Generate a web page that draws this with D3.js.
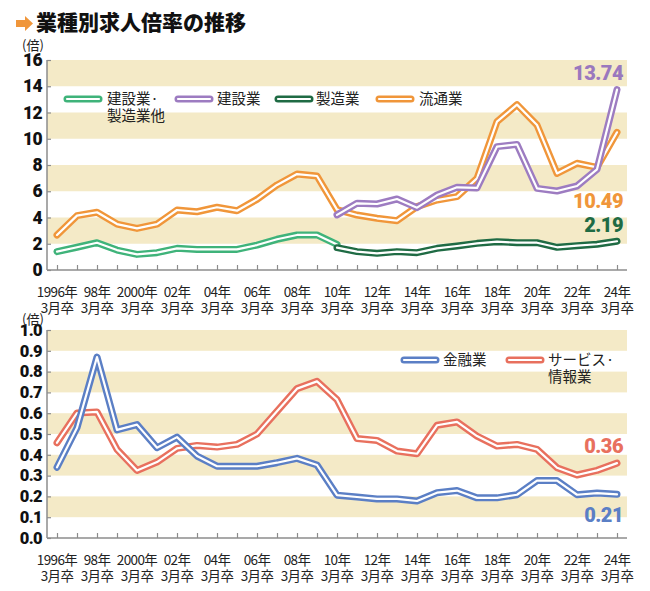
<!DOCTYPE html>
<html><head><meta charset="utf-8">
<script src="https://cdn.jsdelivr.net/npm/d3@7"></script>
<style>body{margin:0;background:#fff} svg{display:block}</style>
</head><body><svg id="c" width="650" height="591"></svg>
<script>
// ---------- data ----------
const years = d3.range(1996, 2025);
const labelYears = d3.range(1996, 2025, 2);
const xLabelTop = ["1996年","98年","2000年","02年","04年","06年","08年","10年","12年","14年","16年","18年","20年","22年","24年"];
const xLabelBottom = "3月卒";
const topTicks = [0,2,4,6,8,10,12,14,16];
const bottomTicks = [0,0.1,0.2,0.3,0.4,0.5,0.6,0.7,0.8,0.9,1.0];

// top chart
const ryutsuStart = 1996; // 流通業
const ryutsu = [2.67,4.14,4.4,3.5,3.17,3.5,4.57,4.44,4.78,4.52,5.38,6.48,7.31,7.16,4.6,4.19,3.94,3.76,4.83,5.33,5.59,6.98,11.3,12.6,11.05,7.36,8.13,7.82,10.49];
const kenseiStart = 1996; // 建設業・製造業他
const kensei = [1.4,1.73,2.08,1.52,1.19,1.32,1.65,1.57,1.57,1.57,1.9,2.34,2.67,2.67,1.95];
const kensetsuStart = 2010; // 建設業
const kensetsu = [4.2,5.08,5.03,5.41,4.75,5.71,6.3,6.25,9.4,9.57,6.22,6.02,6.4,7.67,13.74];
const seizoStart = 2010; // 製造業
const seizo = [1.7,1.4,1.27,1.4,1.32,1.65,1.83,2.03,2.16,2.08,2.08,1.73,1.85,1.96,2.19];

// bottom chart
const kinyuStart = 1996; // 金融業
const kinyu = [0.34,0.53,0.87,0.52,0.545,0.434,0.485,0.394,0.345,0.345,0.345,0.362,0.383,0.351,0.206,0.197,0.188,0.188,0.178,0.218,0.228,0.193,0.193,0.208,0.276,0.276,0.208,0.216,0.21];
const serviceStart = 1996; // サービス・情報業
const service = [0.458,0.601,0.606,0.426,0.325,0.365,0.431,0.445,0.437,0.45,0.5,0.609,0.718,0.753,0.665,0.478,0.469,0.418,0.405,0.542,0.558,0.49,0.442,0.45,0.426,0.338,0.303,0.325,0.36];

const topLegend = [
  {name:["建設業·","製造業他"], color:"#3fb37a"},
  {name:["建設業"], color:"#9d7cc1"},
  {name:["製造業"], color:"#1f6b44"},
  {name:["流通業"], color:"#f0963a"}
];
const bottomLegend = [
  {name:["金融業"], color:"#5b7fc5"},
  {name:["サービス·","情報業"], color:"#e8705e"}
];

// ---------- drawing ----------
const svg = d3.select("#c");
const JP = "'Noto Sans CJK JP','Noto Sans',sans-serif";
const NUM = "Roboto,'Noto Sans',sans-serif";
const BAND = "#f4eac7";
const AX = "#8c8c8c";

// title
svg.append("path").attr("d","M16,20H25V16L33,23.5L25,31V27H16Z").attr("fill","#f0963a");
svg.append("text").attr("x",36).attr("y",30).attr("font-family",JP).attr("font-weight",900)
  .attr("font-size",21).attr("fill","#111").text("業種別求人倍率の推移");

const x = d3.scaleLinear().domain([1996,2024]).range([57,617]);
const xL = 47, xR = 627;

function panel(y, ticks, fmt, unitY, labelSize) {
  const g = svg.append("g");
  // bands
  for (let i = 0; i < ticks.length - 1; i++) {
    if ((ticks.length - 2 - i) % 2 === 0) {
      g.append("rect").attr("x",xL).attr("width",xR-xL)
        .attr("y",y(ticks[i+1])).attr("height",y(ticks[i])-y(ticks[i+1])).attr("fill",BAND);
    }
  }
  // y axis
  const ya = d3.axisLeft(y).tickValues(ticks).tickSize(-4).tickPadding(6).tickFormat(fmt);
  const yg = g.append("g").attr("transform",`translate(${xL},0)`).call(ya);
  yg.select(".domain").attr("stroke",AX).attr("stroke-width",1.5).attr("d",`M0,${y(ticks[ticks.length-1])}V${y(0)}`);
  yg.selectAll(".tick line").attr("stroke",AX).attr("stroke-width",1.2);
  yg.selectAll(".tick text").attr("font-family",NUM).attr("font-weight",900).attr("font-size",labelSize)
    .attr("fill","#111").attr("x",-5).attr("letter-spacing",-0.6);
  // x axis
  const xa = d3.axisBottom(x).tickValues(years).tickSize(-5).tickFormat("");
  const xg = g.append("g").attr("transform",`translate(0,${y(0)})`).call(xa);
  xg.select(".domain").attr("stroke",AX).attr("stroke-width",1.5).attr("d",`M${xL},0H${xR}`);
  xg.selectAll(".tick line").attr("stroke",AX).attr("stroke-width",1.2);
  // x labels
  labelYears.forEach((yr,i) => {
    g.append("text").attr("text-anchor","middle").attr("font-family",JP).attr("font-size",13.5)
      .attr("fill","#222").attr("letter-spacing",-0.6).attr("x",x(yr)).attr("y",y(0)+27).text(xLabelTop[i]);
    g.append("text").attr("text-anchor","middle").attr("font-family",JP).attr("font-size",13.5)
      .attr("fill","#222").attr("letter-spacing",-0.6).attr("x",x(yr)).attr("y",y(0)+43).text(xLabelBottom);
  });
  // unit label
  svg.append("text").attr("x",22).attr("y",unitY).attr("font-family",JP).attr("font-size",13)
    .attr("fill","#222").text("(倍)");
  return g;
}

function series(g, y, data, start, color) {
  const line = d3.line().x((d,i)=>x(start+i)).y(d=>y(d));
  g.append("path").attr("d",line(data)).attr("fill","none").attr("stroke",color)
    .attr("stroke-width",7).attr("stroke-linejoin","round").attr("stroke-linecap","round");
  g.append("path").attr("d",line(data)).attr("fill","none").attr("stroke","#fff")
    .attr("stroke-width",2.2).attr("stroke-linejoin","round").attr("stroke-linecap","round");
}

function legendItem(g, lx, ly, item, textX) {
  g.append("line").attr("x1",lx).attr("x2",lx+32).attr("y1",ly).attr("y2",ly)
    .attr("stroke",item.color).attr("stroke-width",7).attr("stroke-linecap","round");
  g.append("line").attr("x1",lx).attr("x2",lx+32).attr("y1",ly).attr("y2",ly)
    .attr("stroke","#fff").attr("stroke-width",2.2).attr("stroke-linecap","round");
  item.name.forEach((s,i)=>{
    g.append("text").attr("x",textX).attr("y",ly+5+i*17).attr("font-family",JP).attr("font-size",14.5)
      .attr("fill","#222").text(s);
  });
}

function endLabel(txt, xx, yy, color, size) {
  svg.append("text").attr("x",xx).attr("y",yy).attr("text-anchor","end").attr("font-family",NUM)
    .attr("font-weight",900).attr("font-size",size).attr("letter-spacing",-0.5).attr("fill",color).text(txt);
}

// ----- top panel -----
const yT = d3.scaleLinear().domain([0,16]).range([270,60]);
const gT = panel(yT, topTicks, d3.format("d"), 50, 17.5);
series(gT, yT, ryutsu, ryutsuStart, topLegend[3].color);
series(gT, yT, kensei, kenseiStart, topLegend[0].color);
series(gT, yT, seizo, seizoStart, topLegend[2].color);
series(gT, yT, kensetsu, kensetsuStart, topLegend[1].color);
const lgT = svg.append("g");
legendItem(lgT, 67, 99, topLegend[0], 107);
legendItem(lgT, 178, 99, topLegend[1], 217);
legendItem(lgT, 278, 99, topLegend[2], 316);
legendItem(lgT, 379, 99, topLegend[3], 419);
endLabel("13.74", 623, 80, "#9a78be", 20);
endLabel("10.49", 623, 208, "#f0963a", 20);
endLabel("2.19", 623, 232, "#1f6b44", 20);

// ----- bottom panel -----
const yB = d3.scaleLinear().domain([0,1]).range([538,330]);
const gB = panel(yB, bottomTicks, d3.format(".1f"), 324, 16.5);
series(gB, yB, service, serviceStart, bottomLegend[1].color);
series(gB, yB, kinyu, kinyuStart, bottomLegend[0].color);
const lgB = svg.append("g");
legendItem(lgB, 404, 360, bottomLegend[0], 443);
legendItem(lgB, 509, 360, bottomLegend[1], 548);
endLabel("0.36", 623, 453, "#e8705e", 20);
endLabel("0.21", 623, 522, "#5b7fc5", 20);
</script></body></html>
